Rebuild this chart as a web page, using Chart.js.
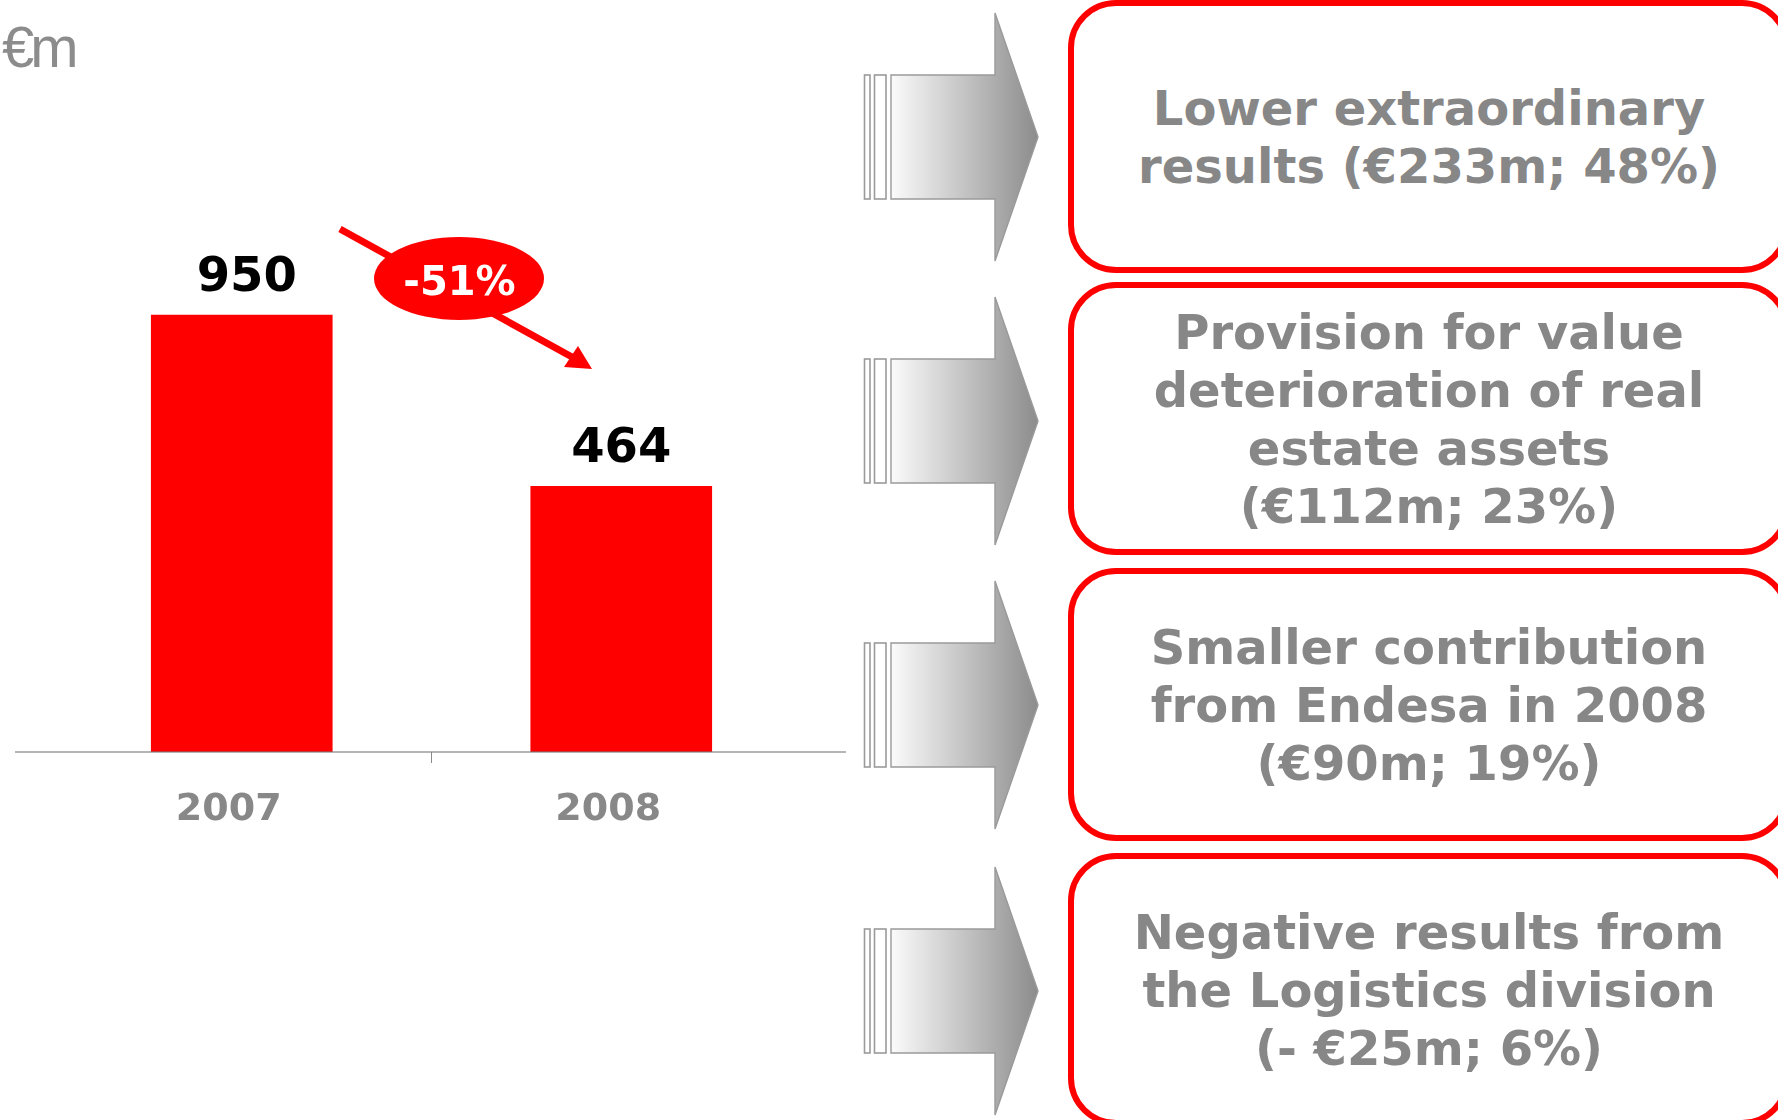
<!DOCTYPE html>
<html>
<head>
<meta charset="utf-8">
<script src="https://cdn.jsdelivr.net/npm/chart.js@4.4.0/dist/chart.umd.min.js"></script>
<style>
  html, body { margin: 0; padding: 0; background: #ffffff; overflow: hidden; }
  body { width: 1778px; height: 1120px; position: relative; font-family: "DejaVu Sans", sans-serif; }
  #chartWrap { position: absolute; left: 0; top: 0; width: 860px; height: 900px; }
  #unit { position: absolute; left: 2px; top: 18px; font-family: "Liberation Sans", Arial, sans-serif;
          font-size: 58px; line-height: 58px; color: #8c8c8c; letter-spacing: -4px; }
  #shapes { position: absolute; left: 0; top: 0; width: 1778px; height: 1120px; pointer-events: none; }
  .box { position: absolute; left: 1068px; width: 722px; height: 273px; box-sizing: border-box;
         border: 6.5px solid #ff0000; border-radius: 48px; display: flex; align-items: center;
         justify-content: center; text-align: center; font-family: "DejaVu Sans", sans-serif;
         font-weight: bold; font-size: 48px; line-height: 58px; color: #878787; background: #fff; }
</style>
</head>
<body>
<div id="chartWrap"><canvas id="c" width="860" height="900"></canvas></div>
<div id="unit">€m</div>
<svg id="shapes" width="1778" height="1120" xmlns="http://www.w3.org/2000/svg">
  <defs>
    <linearGradient id="ag" gradientUnits="userSpaceOnUse" x1="891" y1="0" x2="1038" y2="0">
      <stop offset="0" stop-color="#fbfbfb"/>
      <stop offset="1" stop-color="#8c8c8c"/>
    </linearGradient>
  </defs>
  <g id="arrows"></g>
  <line x1="340" y1="229" x2="572" y2="357" stroke="#ff0000" stroke-width="7"/>
  <polygon points="592,369 564,367 578,346" fill="#ff0000"/>
  <ellipse cx="459" cy="278.5" rx="85" ry="41.5" fill="#ff0000"/>
  <text id="chg" x="459.5" y="295" text-anchor="middle" font-family="DejaVu Sans" font-weight="bold" font-size="40" fill="#ffffff"></text>
</svg>
<div id="boxes"></div>
<script>
// ---- data ----
const categories = ['2007', '2008'];
const netProfit = [950, 464];
const changeLabel = '-51%';
const driverLines = [
  ['Lower extraordinary', 'results (€233m; 48%)'],
  ['Provision for value', 'deterioration of real', 'estate assets', '(€112m; 23%)'],
  ['Smaller contribution', 'from Endesa in 2008', '(€90m; 19%)'],
  ['Negative results from', 'the Logistics division', '(- €25m; 6%)']
];

// ---- layout constants ----
const AXIS_FLOOR = -290;
const AXIS_TOP = 1560;
const boxTops = [0, 282, 568, 853];
const arrowCenters = [137, 421, 705, 991];

document.getElementById('chg').textContent = changeLabel;

// boxes
const boxesEl = document.getElementById('boxes');
driverLines.forEach((lines, i) => {
  const d = document.createElement('div');
  d.className = 'box';
  d.style.top = boxTops[i] + 'px';
  const s = document.createElement('div');
  lines.forEach((ln, j) => {
    if (j) s.appendChild(document.createElement('br'));
    s.appendChild(document.createTextNode(ln));
  });
  d.appendChild(s);
  boxesEl.appendChild(d);
});

// block arrows
const NS = 'http://www.w3.org/2000/svg';
const arrowsG = document.getElementById('arrows');
arrowCenters.forEach(cy => {
  const r1 = document.createElementNS(NS, 'rect');
  r1.setAttribute('x', 864.5); r1.setAttribute('y', cy - 62); r1.setAttribute('width', 5.5); r1.setAttribute('height', 124);
  r1.setAttribute('fill', '#ffffff'); r1.setAttribute('stroke', '#9a9a9a'); r1.setAttribute('stroke-width', 1.6);
  arrowsG.appendChild(r1);
  const r2 = document.createElementNS(NS, 'rect');
  r2.setAttribute('x', 874.5); r2.setAttribute('y', cy - 62); r2.setAttribute('width', 11.5); r2.setAttribute('height', 124);
  r2.setAttribute('fill', '#ffffff'); r2.setAttribute('stroke', '#9a9a9a'); r2.setAttribute('stroke-width', 1.6);
  arrowsG.appendChild(r2);
  const p = document.createElementNS(NS, 'polygon');
  p.setAttribute('points', [
    [891, cy - 62], [995, cy - 62], [995, cy - 124], [1038, cy], [995, cy + 124], [995, cy + 62], [891, cy + 62]
  ].map(a => a.join(',')).join(' '));
  p.setAttribute('fill', 'url(#ag)'); p.setAttribute('stroke', '#9a9a9a'); p.setAttribute('stroke-width', 1.4);
  arrowsG.appendChild(p);
});

// ---- chart ----
const barDecor = {
  id: 'barDecor',
  afterDatasetsDraw(chart) {
    const ctx = chart.ctx;
    const y = chart.chartArea.bottom;
    ctx.save();
    ctx.strokeStyle = 'rgba(120,120,120,0.55)';
    ctx.lineWidth = 2;
    ctx.beginPath();
    ctx.moveTo(15, y);
    ctx.lineTo(846, y);
    ctx.stroke();
    const meta = chart.getDatasetMeta(0);
    ctx.font = 'bold 48px "DejaVu Sans"';
    ctx.fillStyle = '#000000';
    ctx.textAlign = 'center';
    ctx.textBaseline = 'alphabetic';
    meta.data.forEach((bar, i) => {
      ctx.fillText(String(netProfit[i]), bar.x + (i === 0 ? 5 : 0), bar.y - 24);
    });
    ctx.restore();
  }
};

new Chart(document.getElementById('c'), {
  type: 'bar',
  data: {
    labels: categories,
    datasets: [{
      data: netProfit,
      backgroundColor: '#ff0000',
      borderWidth: 0,
      base: AXIS_FLOOR,
      barThickness: 181
    }]
  },
  options: {
    responsive: false,
    devicePixelRatio: 1,
    animation: false,
    layout: { padding: { left: 52, right: 49, top: 100, bottom: 0 } },
    plugins: { legend: { display: false }, tooltip: { enabled: false } },
    scales: {
      x: {
        offset: true,
        grid: {
          offset: true,
          drawOnChartArea: false,
          tickLength: 11,
          lineWidth: 1,
          color: c => (c.index === 1 ? '#8a8a8a' : 'rgba(0,0,0,0)')
        },
        border: { display: false },
        ticks: {
          color: '#888888',
          font: { family: 'DejaVu Sans', weight: 'bold', size: 38 },
          padding: 24,
          labelOffset: -13
        },
        afterFit: s => { s.height = 148; }
      },
      y: { display: false, min: AXIS_FLOOR, max: AXIS_TOP }
    }
  },
  plugins: [barDecor]
});
</script>
</body>
</html>
